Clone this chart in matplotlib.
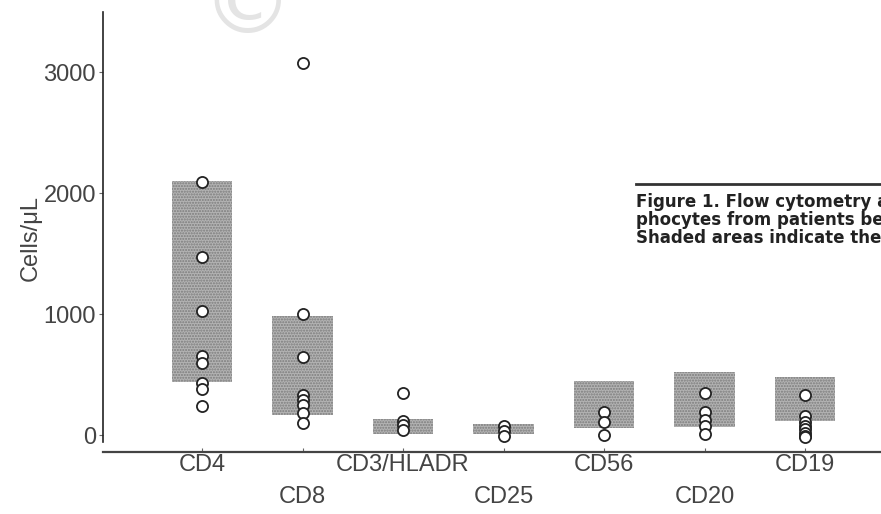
import matplotlib
matplotlib.use("Agg")
import matplotlib.pyplot as plt
from matplotlib.patches import Rectangle
from matplotlib.transforms import blended_transform_factory

# ---- data ----
categories = ["CD4", "CD8", "CD3/HLADR", "CD25", "CD56", "CD20", "CD19"]
range_low = [440, 165, 10, 5, 60, 65, 115]
range_high = [2100, 985, 135, 95, 450, 520, 480]
points = {
    "CD4": [2090, 1470, 1030, 655, 595, 430, 385, 240],
    "CD8": [3080, 1005, 645, 330, 290, 250, 185, 100],
    "CD3/HLADR": [350, 120, 80, 45],
    "CD25": [75, 35, -5],
    "CD56": [190, 110, 0],
    "CD20": [350, 190, 125, 75, 5],
    "CD19": [330, 155, 110, 75, 50, 20, -5, -15],
}
y_ticks = [0, 1000, 2000, 3000]
y_label = "Cells/\u03bcL"
caption_lines = ["Figure 1. Flow cytometry a",
                 "phocytes from patients be",
                 "Shaded areas indicate the"]

plt.rcParams['font.family'] = ['Liberation Sans', 'DejaVu Sans']

W, H = 881, 514
fig = plt.figure(figsize=(W / 100, H / 100), dpi=100)

# watermark
fig.text(247.5 / W, 1 - 7 / H, "\u00a9", ha="center", va="center",
         fontsize=66, color="#e4e4e4", family="DejaVu Sans", zorder=0)

ax = fig.add_axes([103 / W, 1 - 452 / H, (W - 103) / W, 440 / H])
ax.patch.set_alpha(0)
ax.set_ylim(-140, 3500)
ax.set_xlim(-0.985, 6.756)

box_w = 0.6
for i, c in enumerate(categories):
    ax.add_patch(Rectangle((i - box_w / 2, range_low[i]), box_w,
                           range_high[i] - range_low[i],
                           facecolor="#b3b3b3", edgecolor="#7c7c7c",
                           hatch="......", linewidth=0, zorder=1))
    ys = points[c]
    ax.plot([i] * len(ys), ys, linestyle="none", marker="o", markersize=8,
            markerfacecolor="white", markeredgecolor="#222222",
            markeredgewidth=1.3, zorder=3, clip_on=False)

# spines
for s in ["top", "right"]:
    ax.spines[s].set_visible(False)
ax.spines["left"].set_bounds(-60, 3500)
ax.spines["left"].set_color("#222222")
ax.spines["left"].set_linewidth(1.2)
ax.spines["bottom"].set_color("#444444")
ax.spines["bottom"].set_linewidth(1.6)

ax.set_yticks(y_ticks)
ax.set_yticklabels([str(v) for v in y_ticks], fontsize=17, color="#444444")
ax.tick_params(axis="y", direction="out", length=3, width=0.8,
               color="#666666", pad=2)
ax.set_xticks(range(len(categories)))
ax.set_xticklabels([])
ax.tick_params(axis="x", direction="in", length=3, width=0.8, color="#666666")

ax.set_ylabel(y_label, fontsize=17, color="#444444")
ax.yaxis.set_label_coords(-(103 - 42) / (W - 103), (452 - 238) / 440)

# staggered category labels
tr = blended_transform_factory(ax.transData, fig.transFigure)
for i, c in enumerate(categories):
    ypix = 465 if i % 2 == 0 else 497
    ax.text(i, 1 - ypix / H, c, transform=tr, ha="center", va="center",
            fontsize=17, color="#444444")

# caption fragment at right
fig.add_artist(plt.Line2D([636 / W, 1.0], [1 - 184 / H, 1 - 184 / H],
                          color="#333333", linewidth=2.0,
                          transform=fig.transFigure))
for k, line in enumerate(caption_lines):
    fig.text(636 / W, 1 - (207 + 18 * k) / H, line, ha="left", va="baseline",
             fontsize=12, fontweight="bold", color="#222222",
             family="DejaVu Sans")

fig.savefig("out.png", dpi=100)
